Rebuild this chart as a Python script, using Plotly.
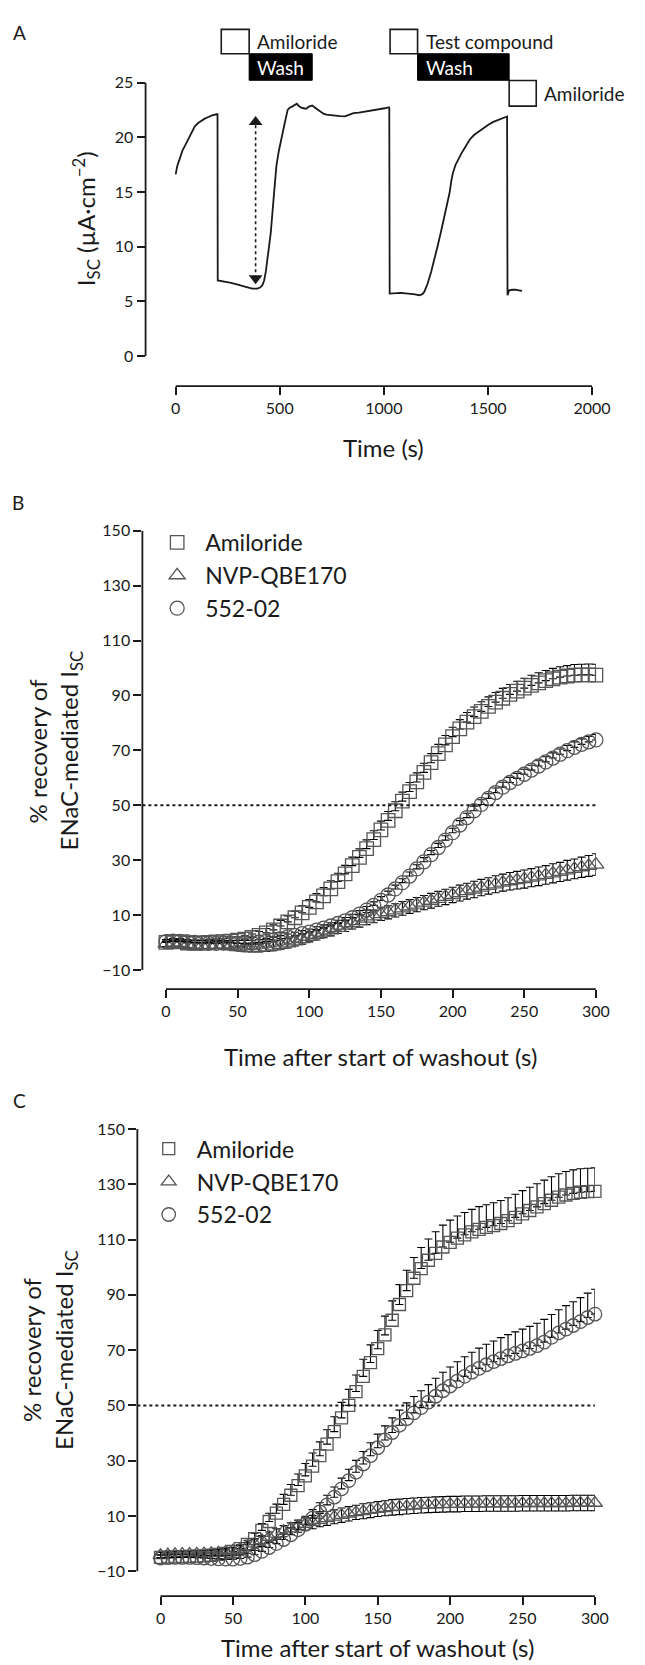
import plotly.graph_objects as go

W, H = 645, 1665
FONT = "Lato"
INK = "#1a1a1a"
MARK = "#555555"

# ---------------- Panel A: raw trace ----------------
time_a = [0, 8, 19, 33, 47, 60, 68, 80, 92, 108, 125, 140, 157, 175, 197, 201,
          202, 220, 238, 260, 280, 303, 320, 335, 350, 368, 392, 405, 416, 425,
          433, 445, 457, 470, 484, 495, 505, 515, 524, 538, 548, 559, 570, 582,
          592, 603, 615, 627, 640, 656, 670, 692, 710, 724, 745, 765, 790, 813,
          835, 854, 880, 919, 950, 984, 1005, 1024, 1026, 1028, 1050, 1081, 1105,
          1130, 1150, 1170, 1185, 1194, 1210, 1227, 1243, 1259, 1275, 1291, 1304,
          1316, 1324, 1332, 1345, 1356, 1372, 1389, 1400, 1413, 1433, 1454, 1478,
          1502, 1526, 1551, 1570, 1586, 1592, 1594, 1602, 1616, 1632, 1648, 1664]
isc_a = [16.6, 17.4, 18.0, 18.8, 19.3, 19.8, 20.15, 20.6, 21.0, 21.3, 21.55, 21.7,
         21.85, 22.0, 22.1, 22.1, 6.9, 6.85, 6.8, 6.7, 6.6, 6.5, 6.45, 6.35, 6.25,
         6.15, 6.15, 6.25, 6.45, 6.9, 7.7, 9.5, 11.3, 14.3, 17.4, 18.7, 19.5, 20.5,
         21.3, 22.5, 22.7, 22.8, 22.95, 23.06, 22.85, 22.7, 22.65, 22.6, 22.8, 22.9,
         22.7, 22.36, 22.15, 22.06, 22.0, 21.97, 21.93, 21.9, 22.05, 22.2, 22.25,
         22.36, 22.45, 22.57, 22.65, 22.75, 22.7, 5.7, 5.75, 5.76, 5.72, 5.7, 5.62,
         5.55, 5.65, 5.85, 6.6, 7.67, 8.8, 10.1, 11.4, 12.8, 13.9, 14.94, 16.0,
         16.76, 17.5, 17.97, 18.5, 19.03, 19.4, 19.8, 20.2, 20.5, 20.85, 21.15,
         21.4, 21.6, 21.75, 21.9, 21.9, 5.55, 6.0, 6.05, 6.06, 6.0, 5.94]

arrow_time = 384
arrow_head_top = 21.4
arrow_head_bottom = 7.1

# protocol bars (label, start s, end s)
protocol_open = [("Amiloride", 219, 353), ("Test compound", 1030, 1162), ("Amiloride", 1602, 1732)]
protocol_wash = [("Wash", 353, 656), ("Wash", 1162, 1602)]

# ---------------- Panels B & C: recovery (% of ENaC-mediated Isc) ----------------
t_rec = list(range(0, 301, 5))
series_names = ["Amiloride", "NVP-QBE170", "552-02"]

b_amiloride = [0.0, 0.3, 0.2, -0.2, -0.3, -0.2, 0.0, 0.2, 0.3, 0.5, 0.8, 1.2,
               1.8, 2.6, 3.5, 4.6, 6.0, 7.5, 9.0, 10.8, 12.8, 14.8, 17.0, 19.5,
               22.2, 25.0, 28.0, 31.0, 34.2, 37.5, 41.0, 44.5, 48.0, 51.5, 55.0, 58.5,
               62.0, 65.5, 68.8, 72.0, 75.0, 77.8, 80.3, 82.3, 84.2, 86.0, 87.6, 89.0,
               90.4, 91.6, 92.7, 93.7, 94.6, 95.4, 96.1, 96.7, 97.1, 97.4, 97.5, 97.5,
               97.4]
b_amiloride_err = [1.0, 1.0, 1.1, 1.0, 1.0, 1.1, 1.0, 1.0, 1.1, 1.1, 1.2, 1.2,
                   1.3, 1.4, 1.6, 1.8, 2.0, 2.2, 2.4, 2.6, 2.8, 3.0, 3.0, 3.0,
                   3.0, 3.1, 3.1, 3.1, 3.2, 3.2, 3.2, 3.2, 3.3, 3.3, 3.3, 3.3,
                   3.3, 3.3, 3.4, 3.4, 3.4, 3.4, 3.5, 3.5, 3.5, 3.5, 3.5, 3.6,
                   3.6, 3.6, 3.6, 3.7, 3.7, 3.7, 3.8, 3.8, 3.8, 3.9, 3.9, 4.0,
                   4.0]
b_nvp = [-0.5, -0.3, -0.4, -0.8, -1.0, -1.1, -1.0, -0.9, -1.0, -1.3, -1.7, -2.0,
         -2.1, -2.0, -1.8, -1.4, -0.9, -0.3, 0.4, 1.2, 2.0, 2.8, 3.6, 4.4,
         5.3, 6.1, 7.0, 7.8, 8.7, 9.5, 10.3, 11.0, 11.7, 12.4, 13.1, 13.8,
         14.5, 15.2, 15.9, 16.6, 17.3, 18.0, 18.7, 19.3, 20.0, 20.6, 21.2, 21.8,
         22.3, 22.7, 23.1, 23.6, 24.1, 24.6, 25.2, 25.7, 26.3, 26.8, 27.4, 27.9,
         28.4]
b_nvp_err = [1.0, 1.0, 1.0, 1.1, 1.1, 1.1, 1.2, 1.2, 1.2, 1.3, 1.3, 1.4,
             1.4, 1.5, 1.5, 1.6, 1.6, 1.7, 1.7, 1.8, 1.8, 1.9, 1.9, 2.0,
             2.0, 2.1, 2.1, 2.2, 2.2, 2.3, 2.3, 2.4, 2.4, 2.5, 2.5, 2.6,
             2.6, 2.7, 2.7, 2.8, 2.8, 2.9, 2.9, 3.0, 3.0, 3.0, 3.1, 3.1,
             3.2, 3.2, 3.3, 3.3, 3.4, 3.4, 3.5, 3.5, 3.6, 3.6, 3.7, 3.8,
             3.9]
b_552 = [0.3, 0.5, 0.4, 0.2, 0.0, -0.2, -0.3, -0.3, -0.2, -0.2, -0.3, -0.3,
         -0.2, 0.0, 0.4, 0.9, 1.4, 2.0, 2.6, 3.2, 3.8, 4.5, 5.2, 6.0,
         6.9, 7.9, 9.0, 10.3, 11.8, 13.5, 15.3, 17.3, 19.5, 21.8, 24.2, 26.8,
         29.4, 32.0, 34.6, 37.3, 40.0, 42.8, 45.5, 48.0, 50.3, 52.5, 54.6, 56.6,
         58.3, 59.8, 61.3, 62.8, 64.3, 65.8, 67.2, 68.6, 69.9, 71.1, 72.2, 73.1,
         73.8]
b_552_err = [0.8, 0.8, 0.8, 0.8, 0.9, 0.9, 0.9, 0.9, 0.9, 0.9, 1.0, 1.0,
             1.0, 1.0, 1.0, 1.0, 1.1, 1.1, 1.1, 1.1, 1.1, 1.2, 1.2, 1.2,
             1.2, 1.2, 1.3, 1.3, 1.3, 1.3, 1.4, 1.4, 1.4, 1.4, 1.5, 1.5,
             1.5, 1.5, 1.5, 1.6, 1.6, 1.6, 1.6, 1.7, 1.7, 1.7, 1.7, 1.8,
             1.8, 1.8, 1.8, 1.8, 1.9, 1.9, 1.9, 1.9, 1.9, 2.0, 2.0, 2.0,
             2.0]

c_amiloride = [-5.0, -4.9, -4.8, -4.7, -4.6, -4.5, -4.4, -4.2, -3.9, -3.5, -2.8, -1.8,
               -0.3, 1.8, 4.8, 8.0, 11.0, 14.2, 17.5, 21.0, 24.5, 28.0, 31.8, 36.0,
               40.5, 45.5, 50.0, 55.0, 60.5, 65.5, 70.5, 75.5, 80.8, 86.5, 91.5, 96.0,
               99.5, 102.5, 105.0, 107.3, 109.0, 110.5, 111.7, 112.8, 113.7, 114.4, 115.0, 115.8,
               116.8, 118.0, 119.3, 120.5, 121.8, 123.0, 124.2, 125.3, 126.1, 126.7, 127.1, 127.3,
               127.4]
c_amiloride_err = [1.0, 1.0, 1.0, 1.0, 1.1, 1.1, 1.1, 1.1, 1.2, 1.2, 1.3, 1.4,
                   1.5, 2.0, 2.5, 3.0, 3.3, 3.6, 3.9, 4.2, 4.5, 4.8, 5.0, 5.2,
                   5.4, 5.6, 5.8, 6.0, 6.2, 6.4, 6.6, 6.8, 7.0, 7.2, 7.4, 7.5,
                   7.6, 7.7, 7.8, 7.9, 8.0, 8.0, 8.1, 8.1, 8.2, 8.2, 8.3, 8.3,
                   8.3, 8.4, 8.4, 8.4, 8.4, 8.5, 8.5, 8.5, 8.5, 8.5, 8.5, 8.5,
                   8.5]
c_nvp = [-4.2, -4.0, -3.9, -3.8, -3.8, -3.7, -3.6, -3.5, -3.3, -3.0, -2.6, -2.0,
         -1.0, 0.0, 1.2, 2.4, 3.5, 4.5, 5.4, 6.3, 7.1, 7.8, 8.5, 9.1,
         9.7, 10.3, 10.8, 11.3, 11.7, 12.1, 12.5, 12.8, 13.1, 13.3, 13.5, 13.7,
         13.9, 14.0, 14.1, 14.2, 14.3, 14.3, 14.4, 14.4, 14.4, 14.5, 14.5, 14.5,
         14.5, 14.5, 14.6, 14.6, 14.6, 14.6, 14.6, 14.6, 14.6, 14.7, 14.7, 14.7,
         14.7]
c_nvp_err = [1.0, 1.0, 1.0, 1.0, 1.0, 1.1, 1.1, 1.1, 1.2, 1.2, 1.3, 1.4,
             1.5, 1.6, 1.7, 1.8, 1.9, 2.0, 2.1, 2.2, 2.3, 2.4, 2.4, 2.5,
             2.5, 2.6, 2.6, 2.6, 2.7, 2.7, 2.7, 2.7, 2.8, 2.8, 2.8, 2.8,
             2.8, 2.8, 2.8, 2.8, 2.8, 2.8, 2.8, 2.8, 2.8, 2.8, 2.8, 2.8,
             2.8, 2.8, 2.8, 2.8, 2.8, 2.8, 2.8, 2.8, 2.8, 2.8, 2.8, 2.8,
             2.8]
c_552 = [-5.2, -5.1, -5.0, -5.0, -5.0, -5.1, -5.2, -5.4, -5.5, -5.6, -5.6, -5.4,
         -4.9, -4.0, -2.8, -1.4, 0.0, 1.5, 3.2, 5.0, 7.0, 9.2, 11.5, 14.0,
         16.8, 19.8, 22.8, 25.8, 28.8, 31.8, 34.7, 37.5, 40.2, 42.8, 45.2, 47.3,
         49.2, 51.2, 53.3, 55.3, 57.0, 58.8, 60.5, 62.0, 63.4, 64.7, 65.8, 66.9,
         67.9, 68.8, 69.7, 70.6, 71.6, 72.9, 74.6, 76.2, 77.6, 78.9, 80.3, 81.8,
         83.0]
c_552_err = [1.0, 1.0, 1.0, 1.0, 1.0, 1.0, 1.1, 1.1, 1.1, 1.2, 1.2, 1.3,
             1.4, 1.5, 1.7, 1.9, 2.1, 2.3, 2.5, 2.7, 2.9, 3.1, 3.3, 3.5,
             3.7, 3.9, 4.1, 4.3, 4.5, 4.7, 4.9, 5.1, 5.3, 5.5, 5.7, 5.9,
             6.1, 6.3, 6.5, 6.7, 6.9, 7.0, 7.1, 7.2, 7.3, 7.4, 7.5, 7.6,
             7.7, 7.8, 7.9, 8.0, 8.1, 8.2, 8.3, 8.4, 8.5, 8.6, 8.7, 8.8,
             9.0]

# ---------------- layout geometry (pixels) ----------------
def pxx(p):
    return p / W

def pxy(p):
    return 1 - p / H

def lin_range(v1, p1, v2, p2, plo, phi):
    k = (v2 - v1) / (p2 - p1)
    return [v1 + (plo - p1) * k, v1 + (phi - p1) * k]

panels = {
    "A": dict(xpx=(150, 610), ypx=(73, 378.3), xa=(0, 181, 2000, 610), ya=(0, 348, 25, 73),
              xt=[0, 500, 1000, 1500, 2000], yt=[0, 5, 10, 15, 20, 25]),
    "B": dict(xpx=(146.7, 614), ypx=(524, 985), xa=(0, 171, 300, 614), ya=(150, 524, -10, 965.7),
              xt=[0, 50, 100, 150, 200, 250, 300], yt=[-10, 10, 30, 50, 70, 90, 110, 130, 150]),
    "C": dict(xpx=(141.5, 613), ypx=(1125.7, 1595.7), xa=(0, 165.4, 300, 613), ya=(150, 1125.7, -10, 1570.7),
              xt=[0, 50, 100, 150, 200, 250, 300], yt=[-10, 10, 30, 50, 70, 90, 110, 130, 150]),
}

fig = go.Figure()
layout_axes = {}
shapes = []
annotations = []
tickfont = dict(family=FONT, size=16, color=INK)

for i, key in enumerate(["A", "B", "C"]):
    p = panels[key]
    sfx = "" if i == 0 else str(i + 1)
    xr = lin_range(p["xa"][0], p["xa"][1], p["xa"][2], p["xa"][3], p["xpx"][0], p["xpx"][1])
    yr = lin_range(p["ya"][0], p["ya"][1], p["ya"][2], p["ya"][3], p["ypx"][1], p["ypx"][0])
    common = dict(showgrid=False, zeroline=False, showline=False, ticks="outside",
                  ticklen=8, tickwidth=1.6, tickcolor=INK, tickfont=tickfont,
                  fixedrange=True)
    layout_axes["xaxis" + sfx] = dict(domain=[pxx(p["xpx"][0]), pxx(p["xpx"][1])], range=xr,
                                      tickvals=p["xt"], anchor="y" + sfx, **common)
    layout_axes["yaxis" + sfx] = dict(domain=[pxy(p["ypx"][1]), pxy(p["ypx"][0])], range=yr,
                                      tickvals=p["yt"], anchor="x" + sfx, **common)
    # offset (Prism-style) axis lines
    shapes.append(dict(type="line", xref="x" + sfx + " domain", yref="y" + sfx,
                       x0=0, x1=0, y0=min(p["yt"]), y1=max(p["yt"]),
                       line=dict(color=INK, width=1.8)))
    shapes.append(dict(type="line", xref="x" + sfx, yref="y" + sfx + " domain",
                       x0=min(p["xt"]), x1=max(p["xt"]), y0=0, y1=0,
                       line=dict(color=INK, width=1.8)))

# ---- Panel A traces ----
fig.add_trace(go.Scatter(x=time_a, y=isc_a, mode="lines", line=dict(color=INK, width=1.8),
                         showlegend=False, xaxis="x", yaxis="y", hoverinfo="skip"))
fig.add_trace(go.Scatter(x=[arrow_time, arrow_time], y=[arrow_head_bottom, arrow_head_top],
                         mode="lines", line=dict(color=INK, width=1.6, dash="dot"),
                         showlegend=False, xaxis="x", yaxis="y"))
fig.add_trace(go.Scatter(x=[arrow_time, arrow_time], y=[arrow_head_top, arrow_head_bottom],
                         mode="markers",
                         marker=dict(symbol=["triangle-up", "triangle-down"], size=12, color=INK),
                         showlegend=False, xaxis="x", yaxis="y", cliponaxis=False))

# protocol boxes
for label, t0, t1 in protocol_open:
    low = t0 > 1500
    top, bot = (71, 96.7) if low else (19.5, 44)
    shapes.append(dict(type="rect", xref="x", yref="paper", x0=t0, x1=t1,
                       y0=pxy(bot), y1=pxy(top), line=dict(color=INK, width=1.6),
                       fillcolor="white"))
    annotations.append(dict(xref="x", yref="paper", x=t1, y=pxy((top + bot) / 2),
                            xanchor="left", yanchor="middle", xshift=6, showarrow=False,
                            text=label, font=dict(family=FONT, size=19, color=INK)))
for label, t0, t1 in protocol_wash:
    shapes.append(dict(type="rect", xref="x", yref="paper", x0=t0, x1=t1,
                       y0=pxy(70.7), y1=pxy(44), line=dict(color="black", width=1),
                       fillcolor="black"))
    annotations.append(dict(xref="x", yref="paper", x=t0, y=pxy(57.5),
                            xanchor="left", yanchor="middle", xshift=6, showarrow=False,
                            text=label, font=dict(family=FONT, size=19, color="white")))

# ---- Panels B & C traces ----
symbols = ["square-open", "triangle-up-open", "circle-open"]
sizes = {"B": [13.5, 14, 14], "C": [12, 13, 13.5]}
data_b = [(b_amiloride, b_amiloride_err, "up"), (b_nvp, b_nvp_err, "both"), (b_552, b_552_err, "up")]
data_c = [(c_amiloride, c_amiloride_err, "up"), (c_nvp, c_nvp_err, "both"), (c_552, c_552_err, "up")]

for key, sfx, data, leg in [("B", "2", data_b, "legend"), ("C", "3", data_c, "legend2")]:
    for j, (vals, err, mode) in enumerate(data):
        ey = dict(type="data", array=err, symmetric=(mode == "both"), color="black",
                  thickness=1.1, width=4)
        if mode == "up":
            ey["arrayminus"] = [0] * len(err)
            ey["symmetric"] = False
        fig.add_trace(go.Scatter(
            x=t_rec, y=vals, mode="markers", name=series_names[j],
            marker=dict(symbol=symbols[j], size=sizes[key][j], color=MARK,
                        line=dict(width=1.3, color=MARK)),
            error_y=ey, xaxis="x" + sfx, yaxis="y" + sfx, legend=leg,
            cliponaxis=False, showlegend=True))
    # 50 % line
    shapes.append(dict(type="line", xref="x" + sfx + " domain", yref="y" + sfx,
                       x0=0, x1=1, y0=50, y1=50,
                       line=dict(color=INK, width=2, dash="dot")))

# ---- axis titles & panel letters (annotations) ----
title_font = dict(family=FONT, size=24, color=INK)


def ann(text, x, y, angle=0, font=title_font, xanchor="center"):
    annotations.append(dict(text=text, x=pxx(x), y=pxy(y), xref="paper", yref="paper",
                            showarrow=False, textangle=angle, xanchor=xanchor,
                            yanchor="middle", font=font))


ann("I<sub>SC</sub> (µA·cm<sup>−2</sup>)", 88, 210, -90)
ann("Time (s)", 395.5, 440)
ann("% recovery of", 39, 745, -90)
ann("ENaC-mediated I<sub>SC</sub>", 73, 745, -90)
ann("Time after start of washout (s)", 392, 1053)
ann("% recovery of", 33, 1348, -90)
ann("ENaC-mediated I<sub>SC</sub>", 68, 1348, -90)
ann("Time after start of washout (s)", 389, 1647)
letter_font = dict(family=FONT, size=19, color=INK)
ann("A", 20, 23, font=letter_font)
ann("B", 19, 495, font=letter_font)
ann("C", 20, 1097, font=letter_font)

legend_common = dict(xanchor="left", yanchor="top", bgcolor="rgba(0,0,0,0)",
                     borderwidth=0, itemwidth=46, itemsizing="trace",
                     font=dict(family=FONT, size=23, color=INK), tracegroupgap=0)

fig.update_layout(
    width=W, height=H, margin=dict(l=0, r=0, t=0, b=0),
    paper_bgcolor="white", plot_bgcolor="white",
    font=dict(family=FONT, color=INK),
    shapes=shapes, annotations=annotations,
    legend=dict(x=pxx(153.7), y=pxy(514), **legend_common),
    legend2=dict(x=pxx(145), y=pxy(1124), **legend_common),
    **layout_axes,
)

fig.write_html("out.html")
